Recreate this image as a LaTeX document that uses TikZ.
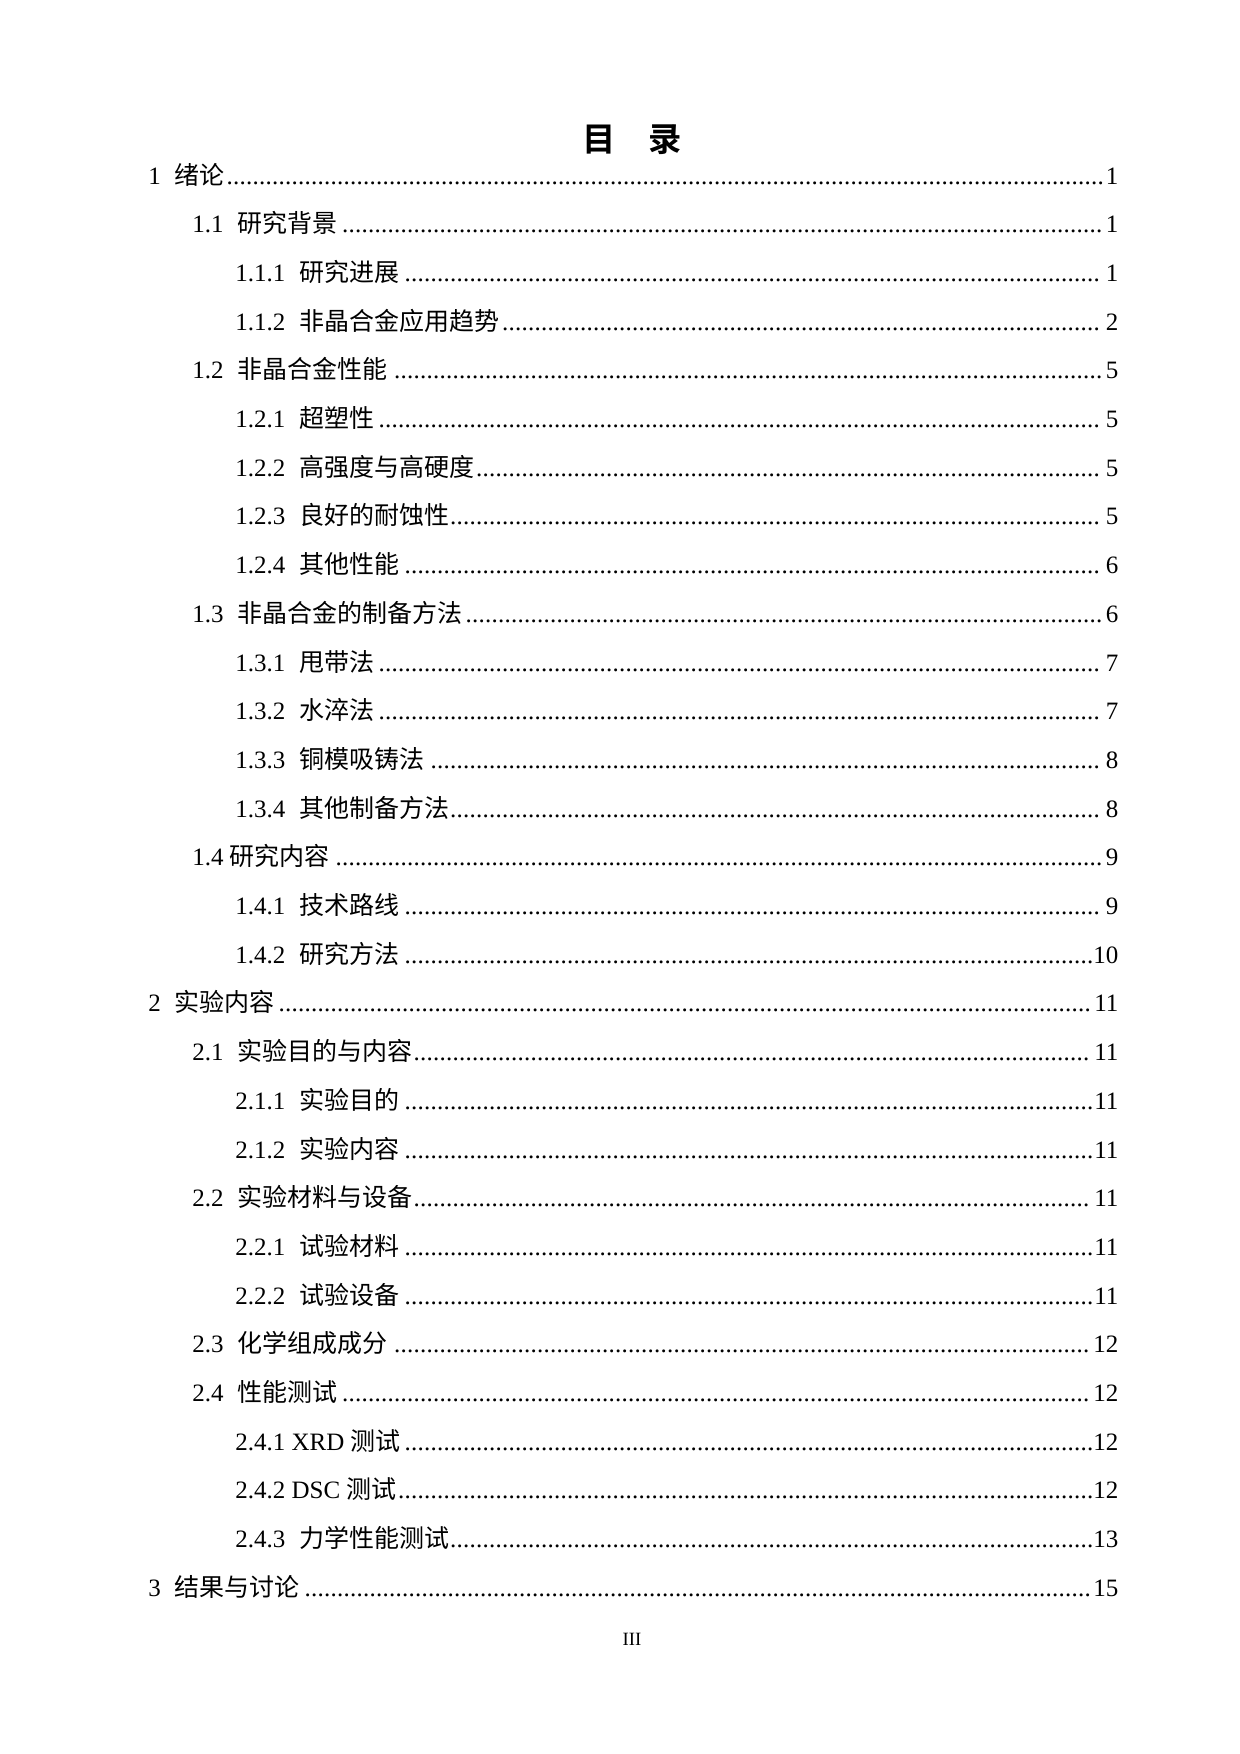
\documentclass[tikz,border=0pt]{standalone}
\usepackage{fontspec}
\setmainfont{Liberation Serif}
\newfontfamily\cjk{Noto Sans CJK SC}
\newfontfamily\cjkbold{Noto Sans CJK SC Bold}
\def\tocgap{\hspace{0.55em}}
\def\tocdots{\leaders\hbox to 0.26em{\hss.\hss}\hfill}

\begin{document}
\begin{tikzpicture}[
            x=0.48pt, y=-0.48pt,
            tocentry/.style={%
                anchor=base west, inner sep=0pt, font=\fontsize{12pt}{14pt}\selectfont%
            },
            toctitle/.style={%
                anchor=center, inner sep=0pt, font=\fontsize{16pt}{18pt}\cjkbold%
            },
            pagenum/.style={%
                anchor=center, inner sep=0pt, font=\fontsize{9pt}{10pt}\selectfont%
            }
        ]
        \useasboundingbox (0,0) rectangle (1240,1754);

        % Title
        \node (title) [toctitle] at (632,140) {目\hspace{1em}录};

        % Entries: indent / text / page
        \foreach \ind/\txt/\pg [count=\i] in {
                148/1\tocgap{\cjk 绪论}/1,
                192/1.1\tocgap{\cjk 研究背景}/1,
                235/1.1.1\tocgap{\cjk 研究进展}/1,
                235/1.1.2\tocgap{\cjk 非晶合金应用趋势}/2,
                192/1.2\tocgap{\cjk 非晶合金性能}/5,
                235/1.2.1\tocgap{\cjk 超塑性}/5,
                235/1.2.2\tocgap{\cjk 高强度与高硬度}/5,
                235/1.2.3\tocgap{\cjk 良好的耐蚀性}/5,
                235/1.2.4\tocgap{\cjk 其他性能}/6,
                192/1.3\tocgap{\cjk 非晶合金的制备方法}/6,
                235/1.3.1\tocgap{\cjk 甩带法}/7,
                235/1.3.2\tocgap{\cjk 水淬法}/7,
                235/1.3.3\tocgap{\cjk 铜模吸铸法}/8,
                235/1.3.4\tocgap{\cjk 其他制备方法}/8,
                192/1.4 {\cjk 研究内容}/9,
                235/1.4.1\tocgap{\cjk 技术路线}/9,
                235/1.4.2\tocgap{\cjk 研究方法}/10,
                148/2\tocgap{\cjk 实验内容}/11,
                192/2.1\tocgap{\cjk 实验目的与内容}/11,
                235/2.1.1\tocgap{\cjk 实验目的}/11,
                235/2.1.2\tocgap{\cjk 实验内容}/11,
                192/2.2\tocgap{\cjk 实验材料与设备}/11,
                235/2.2.1\tocgap{\cjk 试验材料}/11,
                235/2.2.2\tocgap{\cjk 试验设备}/11,
                192/2.3\tocgap{\cjk 化学组成成分}/12,
                192/2.4\tocgap{\cjk 性能测试}/12,
                235/2.4.1 XRD {\cjk 测试}/12,
                235/2.4.2 DSC {\cjk 测试}/12,
                235/2.4.3\tocgap{\cjk 力学性能测试}/13,
                148/3\tocgap{\cjk 结果与讨论}/15} {
            \pgfmathtruncatemacro{\wid}{1118-\ind}
            \node (toc\i) [tocentry] at (\ind,{184+48.7*(\i-1)})
                {\hbox to \dimexpr 0.48pt*\wid\relax{\txt\tocdots\pg}};
        }

        % Page number
        \node (folio) [pagenum] at (632,1639) {III};

        \end{tikzpicture}
\end{document}
